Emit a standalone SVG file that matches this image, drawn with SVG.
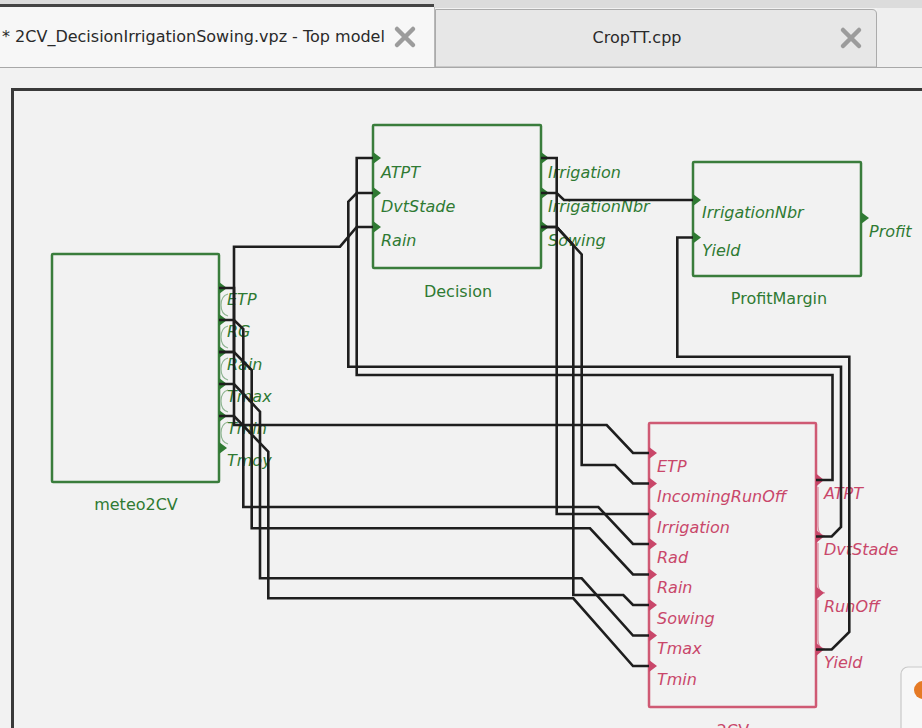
<svg xmlns="http://www.w3.org/2000/svg" width="922" height="728" viewBox="0 0 922 728">
  <style>
    .tabtxt { font-family: "DejaVu Sans", "Liberation Sans", sans-serif; font-size: 16px; fill: #2a2a2a; }
    .closex { fill: none; stroke: #9c9c9c; stroke-width: 4.5; stroke-linecap: round; }
    .wire { fill: none; stroke: #1e1e1e; stroke-width: 2.6; stroke-linejoin: miter; }
    .box { fill: none; stroke-width: 2.5; }
    .port-lbl { font-family: "DejaVu Sans", "Liberation Sans", sans-serif; font-size: 16px; font-style: italic; }
    .name { font-family: "DejaVu Sans", "Liberation Sans", sans-serif; font-size: 16px; text-anchor: middle; }
    .green .box { stroke: #3a7d3c; }
    .green .tri { fill: #2f7a33; }
    .green text { fill: #2f7a33; }
    .green .bracket { stroke: #8fb592; }
    .red .box { stroke: #cf5a74; }
    .red .tri { fill: #c9476a; }
    .red text { fill: #c9476a; }
    .red .bracket { stroke: #d98a9e; }
    .bracket { fill: none; stroke-width: 1.2; }
  </style>

  <!-- window background -->
  <rect x="0" y="0" width="922" height="728" fill="#f2f2f2"/>

  <!-- tab bar -->
  <g id="tabs">
    <rect x="0" y="0" width="922" height="8" fill="#dcdcdc"/>
    <rect x="0" y="4" width="434" height="3" fill="#454545"/>
    <rect x="0" y="7" width="434" height="60" fill="#f7f7f7"/>
    <line x1="434.5" y1="7" x2="434.5" y2="67" stroke="#b8b8b8" stroke-width="1"/>
    <path d="M435.5,67 V9.5 H872 Q876.5,9.5 876.5,14 V67 Z" fill="#e7e7e7" stroke="#ababab" stroke-width="1"/>
    <rect x="877" y="8" width="45" height="59" fill="#efefef"/>
    <line x1="0" y1="67.5" x2="922" y2="67.5" stroke="#a8a8a8" stroke-width="1.2"/>
    <text class="tabtxt" x="2" y="42">* 2CV_DecisionIrrigationSowing.vpz - Top model</text>
    <path class="closex" d="M397,29 L413,45 M413,29 L397,45"/>
    <text class="tabtxt" x="637" y="43" text-anchor="middle" font-size="15">CropTT.cpp</text>
    <path class="closex" d="M843,30 L859,46 M859,30 L843,46"/>
  </g>

  <!-- canvas frame -->
  <path d="M12.5,728 V89.5 H922" fill="none" stroke="#3a3a3a" stroke-width="3"/>

  <!-- model: Decision -->
  <g id="Decision" class="green">
    <rect class="box" x="373" y="125" width="168" height="143" rx="1"/>
    <path class="tri" d="M373,152 L381,158 L373,164 Z M373,187 L381,193 L373,199 Z M373,221 L381,227 L373,233 Z"/>
    <path class="tri" d="M541,152 L549,158 L541,164 Z M541,187 L549,193 L541,199 Z M541,221 L549,227 L541,233 Z"/>
    <text class="port-lbl" x="381" y="178">ATPT</text>
    <text class="port-lbl" x="381" y="212">DvtStade</text>
    <text class="port-lbl" x="381" y="246">Rain</text>
    <text class="port-lbl" x="548" y="178">Irrigation</text>
    <text class="port-lbl" x="548" y="212">IrrigationNbr</text>
    <text class="port-lbl" x="548" y="246">Sowing</text>
    <text class="name" x="458" y="297">Decision</text>
  </g>

  <!-- model: ProfitMargin -->
  <g id="ProfitMargin" class="green">
    <rect class="box" x="693" y="162" width="168" height="114" rx="1"/>
    <path class="tri" d="M693,194 L701,200 L693,206 Z M693,231.5 L701,237.5 L693,243.5 Z"/>
    <path class="tri" d="M861,212 L869,218 L861,224 Z"/>
    <text class="port-lbl" x="702" y="218">IrrigationNbr</text>
    <text class="port-lbl" x="702" y="256">Yield</text>
    <text class="port-lbl" x="869" y="237">Profit</text>
    <text class="name" x="779" y="304">ProfitMargin</text>
  </g>

  <!-- model: meteo2CV -->
  <g id="meteo2CV" class="green">
    <rect class="box" x="52" y="254" width="167" height="228" rx="1"/>
    <path class="bracket" d="M228,294 Q221,296 221,305 Q221,314 228,316 M228,326 Q221,328 221,337 Q221,346 228,348 M228,358 Q221,360 221,369 Q221,378 228,380 M228,390 Q221,392 221,401 Q221,410 228,412 M228,422 Q221,424 221,433 Q221,442 228,444"/>
    <path class="tri" d="M219,282 L227,288 L219,294 Z M219,314 L227,320 L219,326 Z M219,346 L227,352 L219,358 Z M219,378 L227,384 L219,390 Z M219,410 L227,416 L219,422 Z M219,442 L227,448 L219,454 Z"/>
    <text class="port-lbl" x="227" y="305">ETP</text>
    <text class="port-lbl" x="227" y="337">RG</text>
    <text class="port-lbl" x="227" y="370">Rain</text>
    <text class="port-lbl" x="227" y="402">Tmax</text>
    <text class="port-lbl" x="227" y="434">Tmin</text>
    <text class="port-lbl" x="227" y="466">Tmoy</text>
    <text class="name" x="136" y="510">meteo2CV</text>
  </g>

  <!-- model: 2CV -->
  <g id="m2CV" class="red">
    <rect class="box" x="649" y="423" width="167" height="284" rx="1"/>
    <path class="bracket" d="M818,487 V526 Q818,535 825,536 M818,543 V583 Q818,592 825,593 M818,600 V640 Q818,648 825,649"/>
    <path class="tri" d="M649,447 L657,453 L649,459 Z M649,477.5 L657,483.5 L649,489.5 Z M649,508 L657,514 L649,520 Z M649,538 L657,544 L649,550 Z M649,568.5 L657,574.5 L649,580.5 Z M649,599 L657,605 L649,611 Z M649,629.5 L657,635.5 L649,641.5 Z M649,660 L657,666 L649,672 Z"/>
    <path class="tri" d="M816,473.5 L824,480 L816,486.5 Z M816,530 L824,536.5 L816,543 Z M816,586.5 L824,593 L816,599.5 Z M816,643 L824,649.5 L816,656 Z"/>
    <text class="port-lbl" x="657" y="471.5">ETP</text>
    <text class="port-lbl" x="657" y="502">IncomingRunOff</text>
    <text class="port-lbl" x="657" y="532.5">Irrigation</text>
    <text class="port-lbl" x="657" y="562.5">Rad</text>
    <text class="port-lbl" x="657" y="593">Rain</text>
    <text class="port-lbl" x="657" y="623.5">Sowing</text>
    <text class="port-lbl" x="657" y="654">Tmax</text>
    <text class="port-lbl" x="657" y="684.5">Tmin</text>
    <text class="port-lbl" x="824" y="498.5">ATPT</text>
    <text class="port-lbl" x="824" y="555">DvtStade</text>
    <text class="port-lbl" x="824" y="611.5">RunOff</text>
    <text class="port-lbl" x="824" y="668">Yield</text>
    <text class="name" x="733" y="736">2CV</text>
  </g>

  <!-- connections -->
  <g id="connections">
    <path class="wire" d="M219,288 H234 V425 H606.7 L633,453 H649"/>
    <path class="wire" d="M219,352 H234 V246.7 H340 L356.7,227 H373"/>
    <path class="wire" d="M219,320 H234 L243.3,329 V507 H598.3 L633,544 H649"/>
    <path class="wire" d="M219,352 H234 L251.7,370 V528.3 H590 L633,574.5 H649"/>
    <path class="wire" d="M219,384 H234 L260,411.7 V578.3 H581.7 L633,635.5 H649"/>
    <path class="wire" d="M219,416 H234 L268.3,451.7 V598.3 H573.3 L633,666 H649"/>
    <path class="wire" d="M541,158 H556.7 V514 H649"/>
    <path class="wire" d="M541,193 H556.7 L564,200 H693"/>
    <path class="wire" d="M541,227 H556.7 L573.3,245 V595 H623.3 L633,605 H649"/>
    <path class="wire" d="M541,227 H556.7 L581.7,254.5 V465 H615 L633,483.5 H649"/>
    <path class="wire" d="M816,480 H832.5 V375 H356.7 V158 H373"/>
    <path class="wire" d="M816,536.5 H831.7 L841,527 V366.7 H348.3 V201.7 L356.7,193 H373"/>
    <path class="wire" d="M816,649.5 H831.7 L849.3,632 V356.7 H677.3 V237.5 H693"/>
  </g>

  <!-- desktop widget peeking in at the corner -->
  <g id="corner-widget">
    <rect x="901" y="667" width="40" height="75" rx="7" fill="#f7f7f7" stroke="#c9c9c9" stroke-width="1.2"/>
    <circle cx="923" cy="690" r="9" fill="#e57a25"/>
  </g>
</svg>
